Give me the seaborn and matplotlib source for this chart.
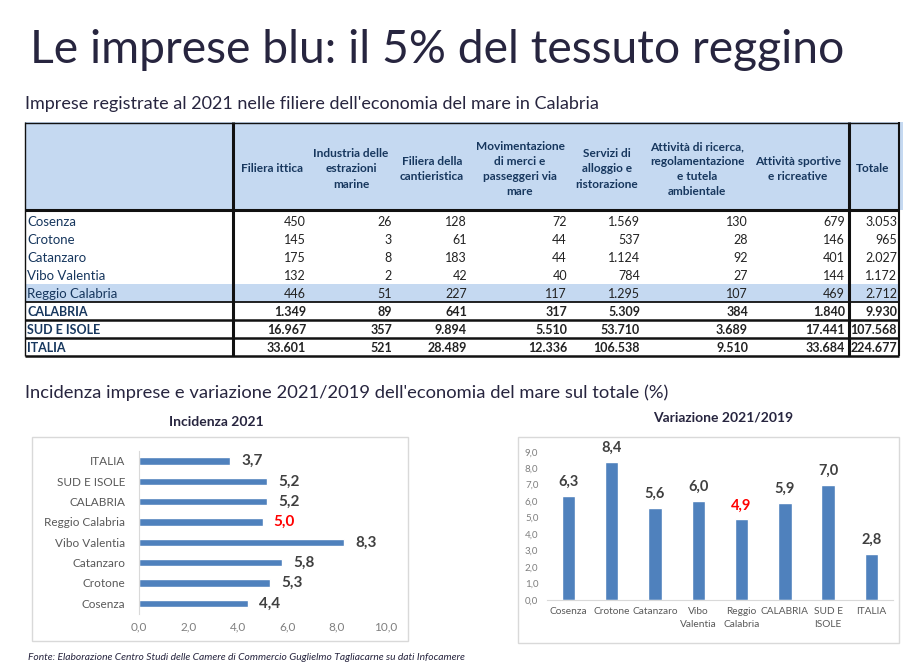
import matplotlib
matplotlib.use("Agg")
import matplotlib.pyplot as plt
import seaborn as sns
from matplotlib.patches import Rectangle

# tabella: imprese registrate al 2021
righe = ["Cosenza", "Crotone", "Catanzaro", "Vibo Valentia", "Reggio Calabria",
         "CALABRIA", "SUD E ISOLE", "ITALIA"]
intestazioni = ["Filiera ittica", "Industria delle\nestrazioni\nmarine",
                "Filiera della\ncantieristica", "Movimentazione\ndi merci e\npasseggeri via\nmare",
                "Servizi di\nalloggio e\nristorazione",
                "Attività di ricerca,\nregolamentazione\ne tutela\nambientale",
                "Attività sportive\ne ricreative", "Totale"]
ittica = [450, 145, 175, 132, 446, 1349, 16967, 33601]
estrazioni = [26, 3, 8, 2, 51, 89, 357, 521]
cantieristica = [128, 61, 183, 42, 227, 641, 9894, 28489]
movimentazione = [72, 44, 44, 40, 117, 317, 5510, 12336]
alloggio = [1569, 537, 1124, 784, 1295, 5309, 53710, 106538]
ricerca = [130, 28, 92, 27, 107, 384, 3689, 9510]
sportive = [679, 146, 401, 144, 469, 1840, 17441, 33684]
totale = [3053, 965, 2027, 1172, 2712, 9930, 107568, 224677]

# grafici
inc_labels = ["ITALIA", "SUD E ISOLE", "CALABRIA", "Reggio Calabria",
              "Vibo Valentia", "Catanzaro", "Crotone", "Cosenza"]
incidenza = [3.7, 5.2, 5.2, 5.0, 8.3, 5.8, 5.3, 4.4]
var_labels = ["Cosenza", "Crotone", "Catanzaro", "Vibo\nValentia", "Reggio\nCalabria",
              "CALABRIA", "SUD E\nISOLE", "ITALIA"]
variazione = [6.3, 8.4, 5.6, 6.0, 4.9, 5.9, 7.0, 2.8]

BLU = "#4f81bd"
NAVY = "#27253f"
HEAD = "#c5d9f1"

sns.set_style("white")
plt.rcParams["font.family"] = ["Lato", "DejaVu Sans"]

W, H = 922, 672
fig = plt.figure(figsize=(W / 100, H / 100), dpi=100)

# livello di sfondo in coordinate pixel
bg = fig.add_axes([0, 0, 1, 1])
bg.set_xlim(0, W)
bg.set_ylim(H, 0)
bg.axis("off")

bg.text(30, 50, "Le imprese blu: il 5% del tessuto reggino", fontsize=33.3,
        color=NAVY, va="center", ha="left")
bg.text(25, 104, "Imprese registrate al 2021 nelle filiere dell'economia del mare in Calabria",
        fontsize=13, color=NAVY, va="center")

# tabella
bg.add_patch(Rectangle((25, 122), 878, 88, fc=HEAD, ec="none"))
bg.add_patch(Rectangle((25, 284), 874, 18, fc=HEAD, ec="none"))
for y, lw in [(122.5, 1.0), (210, 2.2), (302, 1.3), (320, 1.8), (338, 1.8), (356, 1.8)]:
    bg.plot([25, 899], [y, y], color="#111111", lw=lw, solid_capstyle="butt")
for x, lw in [(25, 1.0), (233, 2.2), (849, 2.2), (899, 1.5)]:
    bg.plot([x, x], [122, 356], color="#111111", lw=lw, solid_capstyle="butt")

centri = [272, 351, 432, 520, 607, 697, 798, 873]
destre = [306, 392, 467, 567, 640, 748, 845, 897]
for c, h in zip(centri, intestazioni):
    bg.text(c, 169, h, ha="center", va="center", fontsize=8.6, fontweight="bold",
            color="#17375e", linespacing=1.45)

colonne = [ittica, estrazioni, cantieristica, movimentazione, alloggio, ricerca, sportive, totale]
for i, nome in enumerate(righe):
    y = 221.5 + i * 18
    bold = i >= 5
    bg.text(27, y, nome, va="center", fontsize=9.5 if not bold else 9, color="#17375e",
            fontweight="bold" if bold else "normal")
    for x, col in zip(destre, colonne):
        bg.text(x, y, f"{col[i]:,}".replace(",", "."), ha="right", va="center",
                fontsize=9, color="#222222", fontweight="bold" if bold else "normal")

bg.text(25, 393, "Incidenza imprese e variazione 2021/2019 dell'economia del mare sul totale (%)",
        fontsize=13.2, color=NAVY, va="center")
bg.text(216, 422, "Incidenza 2021", fontsize=10, fontweight="bold", color=NAVY,
        ha="center", va="center")
bg.text(723, 418, "Variazione 2021/2019", fontsize=10, fontweight="bold", color=NAVY,
        ha="center", va="center")
bg.add_patch(Rectangle((32, 437), 376, 204, fc="none", ec="#d9d9d9", lw=1))
bg.add_patch(Rectangle((518, 437), 381, 206, fc="none", ec="#d9d9d9", lw=1))
bg.text(28, 658, "Fonte: Elaborazione Centro Studi delle Camere di Commercio Guglielmo Tagliacarne su dati Infocamere",
        fontsize=7.4, style="italic", color=NAVY, va="center")

# grafico Incidenza 2021
ax1 = fig.add_axes([139 / W, 1 - 613.5 / H, 247 / W, 162.7 / H])
ax1.set_facecolor("none")
sns.barplot(x=incidenza, y=inc_labels, orient="h", color=BLU, saturation=1,
            width=0.37, ax=ax1)
ax1.set_xlim(0, 10)
ax1.set_ylim(7.5, -0.5)
ax1.set_xticks([0, 2, 4, 6, 8, 10])
ax1.set_xticklabels([f"{v:.1f}".replace(".", ",") for v in [0, 2, 4, 6, 8, 10]])
ax1.tick_params(axis="x", length=0, pad=6, labelsize=8.5, labelcolor="#7f7f7f")
ax1.tick_params(axis="y", length=0, pad=10, labelsize=8.5, labelcolor="#595959")
for s in ["top", "right", "bottom"]:
    ax1.spines[s].set_visible(False)
ax1.spines["left"].set_color("#d9d9d9")
lab1 = ax1.bar_label(ax1.containers[0], labels=[f"{v:.1f}".replace(".", ",") for v in incidenza],
                     padding=8, fontsize=11, fontweight="bold", color="#404040")
lab1[inc_labels.index("Reggio Calabria")].set_color("red")

# grafico Variazione 2021/2019
ax2 = fig.add_axes([546.7 / W, 1 - 600 / H, 346.4 / W, 148.3 / H])
ax2.set_facecolor("none")
sns.barplot(x=var_labels, y=variazione, color=BLU, saturation=1, width=0.31, ax=ax2)
ax2.set_xlim(-0.5, 7.5)
ax2.set_ylim(0, 9)
ax2.set_yticks(range(10))
ax2.set_yticklabels([f"{v:.1f}".replace(".", ",") for v in range(10)])
ax2.tick_params(axis="y", length=0, pad=6, labelsize=7, labelcolor="#7f7f7f")
ax2.tick_params(axis="x", length=0, pad=5, labelsize=7.3, labelcolor="#595959")
for lbl in ax2.get_xticklabels():
    lbl.set_linespacing(1.6)
for s in ["top", "right", "left"]:
    ax2.spines[s].set_visible(False)
ax2.spines["bottom"].set_color("#d9d9d9")
lab2 = ax2.bar_label(ax2.containers[0], labels=[f"{v:.1f}".replace(".", ",") for v in variazione],
                     padding=5, fontsize=10.5, fontweight="bold", color="#404040")
lab2[4].set_color("red")
for t in lab2:
    t.set_clip_on(False)

fig.savefig("out.png", dpi=100)
